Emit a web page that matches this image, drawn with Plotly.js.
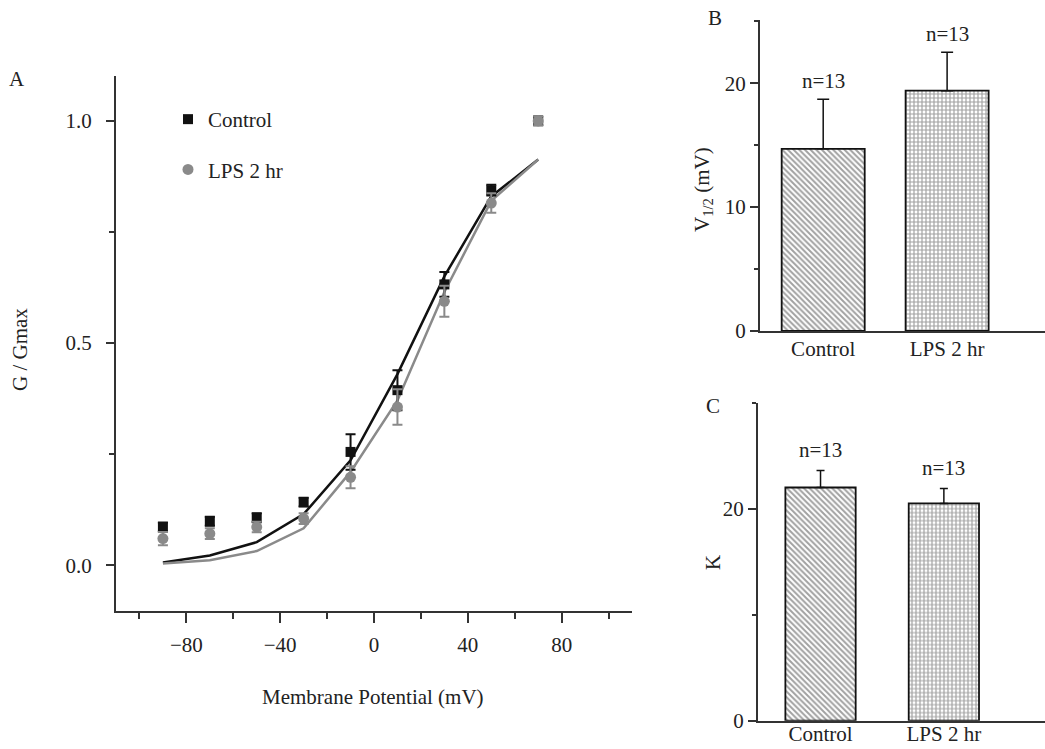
<!DOCTYPE html>
<html>
<head>
<meta charset="utf-8">
<script src="https://cdn.plot.ly/plotly-3.0.1.min.js"></script>
<style>html,body{margin:0;padding:0;background:#fff;}#chart{width:1045px;height:749px;}</style>
</head>
<body>
<div id="chart"></div>
<script>
// ---- Panel A data ----
const voltage = [-90, -70, -50, -30, -10, 10, 30, 50, 70];
const controlG = [0.086, 0.099, 0.107, 0.142, 0.255, 0.394, 0.632, 0.844, 1.0];
const controlErr = [0.01, 0.01, 0.01, 0.01, 0.04, 0.045, 0.028, 0.012, 0.01];
const lpsG = [0.06, 0.071, 0.086, 0.105, 0.198, 0.356, 0.594, 0.815, 1.0];
const lpsErr = [0.015, 0.012, 0.012, 0.012, 0.025, 0.04, 0.035, 0.022, 0.01];
const controlFit = [0.006, 0.022, 0.052, 0.115, 0.236, 0.43, 0.65, 0.83, 0.913];
const lpsFit = [0.004, 0.011, 0.032, 0.083, 0.21, 0.371, 0.615, 0.82, 0.913];
const xTicksA = [-80, -40, 0, 40, 80];
const yTicksA = [0.0, 0.5, 1.0];
const yTickTextA = ["0.0", "0.5", "1.0"];

// ---- Panels B and C data ----
const groups = ["Control", "LPS 2 hr"];
const v12 = [14.7, 19.4];
const v12Err = [4.0, 3.1];
const kVals = [22.0, 20.5];
const kErr = [1.6, 1.4];
const nLabels = ["n=13", "n=13"];

const FONT = "Liberation Serif, Times New Roman, serif";
const FS = 21;
const INK = "#222";
const GRAY = "#8a8a8a";

const traces = [
  {x: voltage, y: controlFit, type: "scatter", mode: "lines", xaxis: "x", yaxis: "y",
   line: {color: "#111", width: 2.5}, showlegend: false, hoverinfo: "skip"},
  {x: voltage, y: lpsFit, type: "scatter", mode: "lines", xaxis: "x", yaxis: "y",
   line: {color: GRAY, width: 2.5}, showlegend: false, hoverinfo: "skip"},
  {x: voltage, y: controlG, type: "scatter", mode: "markers", name: "Control", xaxis: "x", yaxis: "y",
   marker: {symbol: "square", size: 10, color: "#111"},
   error_y: {type: "data", array: controlErr, color: "#111", thickness: 2, width: 5},
   legendgroup: "a"},
  {x: voltage, y: lpsG, type: "scatter", mode: "markers", name: "LPS 2 hr", xaxis: "x", yaxis: "y",
   marker: {symbol: "circle", size: 11, color: GRAY},
   error_y: {type: "data", array: lpsErr, color: GRAY, thickness: 2, width: 5},
   legendgroup: "b"},
  {x: groups, y: v12, type: "bar", xaxis: "x2", yaxis: "y2", width: 0.67, showlegend: false,
   marker: {color: "#fff", line: {color: "#111", width: 1.8},
            pattern: {shape: ["\\", "+"], size: 4, solidity: 0.5, fgcolor: "#444", bgcolor: "#fff", fillmode: "overlay"}},
   error_y: {type: "data", symmetric: false, array: v12Err, arrayminus: [0, 0], color: "#111", thickness: 1.5, width: 6}},
  {x: groups, y: kVals, type: "bar", xaxis: "x3", yaxis: "y3", width: 0.57, showlegend: false,
   marker: {color: "#fff", line: {color: "#111", width: 1.8},
            pattern: {shape: ["\\", "+"], size: 4, solidity: 0.5, fgcolor: "#444", bgcolor: "#fff", fillmode: "overlay"}},
   error_y: {type: "data", symmetric: false, array: kErr, arrayminus: [0, 0], color: "#111", thickness: 1.5, width: 4}}
];

const axisBase = {showline: true, linecolor: "#333", linewidth: 2, showgrid: false, zeroline: false,
  ticks: "outside", tickcolor: "#333", tickwidth: 2, tickfont: {family: FONT, size: FS, color: INK}};

const annotations = [];
function label(text, x, y, size, extra) {
  annotations.push(Object.assign({text: text, x: x / 1045, y: 1 - y / 749, xref: "paper", yref: "paper",
    showarrow: false, font: {family: FONT, size: size, color: INK}, xanchor: "center", yanchor: "middle"}, extra || {}));
}
label("A", 17, 79, FS);
label("B", 715, 18, FS);
label("C", 713, 406, FS);
label("G / Gmax", 20, 350, FS, {textangle: -90});
label("Membrane Potential (mV)", 373, 697, FS);
label("V<sub>1/2</sub> (mV)", 703, 190, FS, {textangle: -90});
label("K", 713, 563, FS, {textangle: -90});
for (let i = 0; i < groups.length; i++) {
  annotations.push({text: nLabels[i], x: groups[i], y: v12[i] + v12Err[i], xref: "x2", yref: "y2",
    showarrow: false, yanchor: "bottom", yshift: 4, font: {family: FONT, size: FS, color: INK}});
  annotations.push({text: nLabels[i], x: groups[i], y: kVals[i] + kErr[i], xref: "x3", yref: "y3",
    showarrow: false, yanchor: "bottom", yshift: 7, font: {family: FONT, size: FS, color: INK}});
}

const layout = {
  width: 1045, height: 749, autosize: false,
  margin: {l: 0, r: 0, t: 0, b: 0},
  paper_bgcolor: "#fff", plot_bgcolor: "#fff",
  font: {family: FONT, size: FS, color: INK},
  showlegend: true,
  legend: {x: 168 / 1045, y: 1 - 99 / 749, xanchor: "left", yanchor: "top",
    font: {family: FONT, size: FS, color: INK}, bgcolor: "rgba(0,0,0,0)",
    traceorder: "grouped", tracegroupgap: 20},
  xaxis: Object.assign({}, axisBase, {domain: [116 / 1045, 632 / 1045], anchor: "y", range: [-110, 110],
    tickvals: xTicksA, ticklen: 10, ticklabelstandoff: 4,
    minor: {dtick: 40, tick0: -100, ticklen: 6, tickwidth: 2, tickcolor: "#333", ticks: "outside"}}),
  yaxis: Object.assign({}, axisBase, {domain: [1 - 611 / 749, 1 - 76 / 749], anchor: "x", range: [-0.103, 1.101],
    tickvals: yTicksA, ticktext: yTickTextA, ticklen: 8, ticklabelstandoff: 10,
    minor: {tickvals: [0.25, 0.75], ticklen: 5, tickwidth: 2, tickcolor: "#333", ticks: "outside"}}),
  xaxis2: Object.assign({}, axisBase, {domain: [760 / 1045, 1], anchor: "y2", range: [-0.51, 1.79],
    ticks: "", type: "category", ticklabelstandoff: -2}),
  yaxis2: Object.assign({}, axisBase, {domain: [1 - 331 / 749, 1 - 20 / 749], anchor: "x2", range: [0, 25.1],
    tickvals: [0, 10, 20], ticklen: 8, ticklabelstandoff: 0,
    minor: {tickvals: [5, 15, 25], ticklen: 4, tickwidth: 2, tickcolor: "#333", ticks: "outside"}}),
  xaxis3: Object.assign({}, axisBase, {domain: [758 / 1045, 1], anchor: "y3", range: [-0.507, 1.82],
    ticks: "", type: "category", ticklabelstandoff: -7}),
  yaxis3: Object.assign({}, axisBase, {domain: [1 - 720.7 / 749, 1 - 402.7 / 749], anchor: "x3", range: [0, 30],
    tickvals: [0, 20], ticklen: 8, ticklabelstandoff: 0,
    minor: {tickvals: [10, 30], ticklen: 4, tickwidth: 2, tickcolor: "#333", ticks: "outside"}}),
  annotations: annotations
};

Plotly.newPlot("chart", traces, layout, {displayModeBar: false, staticPlot: true});
</script>
</body>
</html>
